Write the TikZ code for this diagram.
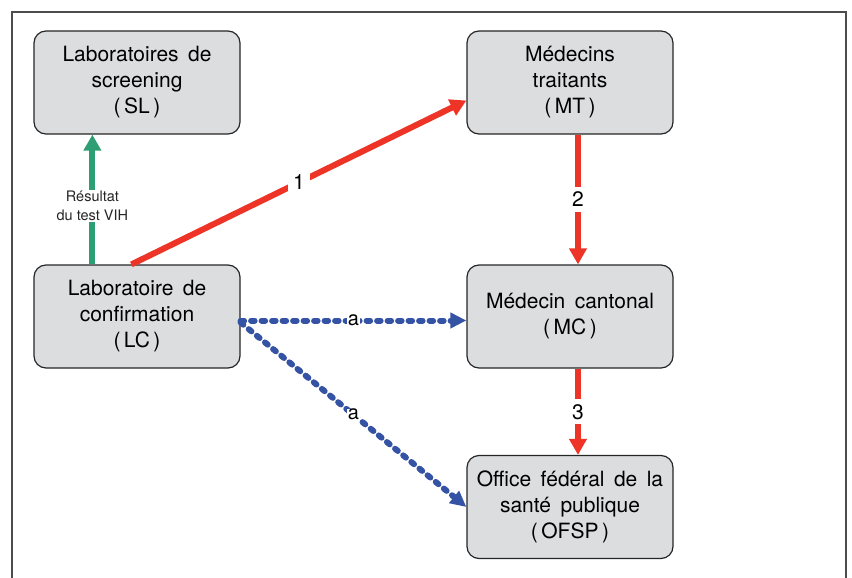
\documentclass[tikz,border=0pt]{standalone}
\usepackage{fontspec}
\setmainfont{TeX Gyre Heros}
\usepackage[dvipsnames]{xcolor}
\usetikzlibrary{arrows.meta}

\definecolor{boxgray}{HTML}{DCDDDF}
\definecolor{arrred}{HTML}{EE3327}
\definecolor{arrgreen}{HTML}{2E9E74}
\definecolor{arrblue}{HTML}{3553A4}
\DeclareRobustCommand\boxfont{\fontsize{21}{26}\selectfont\spaceskip=0.45em\relax}

\begin{document}
\begin{tikzpicture}[x=1pt, y=-1pt,
    office/.style={draw=black!85, line width=1.2pt, fill=boxgray, rounded corners=12pt,
      minimum width=206pt, minimum height=103pt, align=center, font=\boxfont},
    redarrow/.style={draw=arrred, line width=6pt, -{Triangle[length=16pt, width=17pt]}},
    greenarrow/.style={draw=arrgreen, line width=6pt, -{Triangle[length=16pt, width=17pt]}},
    bluearrow/.style={draw=arrblue, line width=6pt, line cap=round,
      dash pattern=on 3.5pt off 7pt, -{Triangle[length=16pt, width=15pt]}},
    num/.style={fill=white, inner sep=5pt, font=\fontsize{21}{21}\selectfont},
    lbl/.style={fill=white, inner sep=0.5pt, font=\fontsize{20}{20}\selectfont}]
    \useasboundingbox (0,0) rectangle (852,578);
    \draw [black!70, line width=1.5pt] (12,590) -- (12,12) -- (846,12) -- (846,590);
    \node [office] (sl) at (137,82.5) {Laboratoires de\\screening\\(\,SL\,)};
    \node [office] (lc) at (137,316.5) {Laboratoire de\\confirmation\\(\,LC\,)};
    \node [office] (mt) at (570,82.5) {Médecins\\traitants\\(\,MT\,)};
    \node [office] (mc) at (570,316.5) {Médecin cantonal\\(\,MC\,)};
    \node [office] (ofsp) at (570,507) {Office fédéral de la\\santé publique\\(\,OFSP\,)};
    \draw [greenarrow] ([xshift=59pt]lc.north west) -- node [fill=white, inner sep=1pt, align=center,
      font=\fontsize{14.5}{19}\selectfont, text=black!85, pos=0.45] {Résultat\\du test VIH} ([xshift=59pt]sl.south west);
    \draw [redarrow] ([xshift=98pt]lc.north west) -- node [num] {1} ([yshift=-18pt]mt.west);
    \draw [redarrow] ([xshift=8pt]mt.south) -- node [num] {2} ([xshift=8pt]mc.north);
    \draw [redarrow] ([xshift=8pt]mc.south) -- node [num] {3} ([xshift=8pt]ofsp.north);
    \draw [bluearrow] ([yshift=-4pt]lc.east) -- node [lbl] {a} ([yshift=-4pt]mc.west);
    \draw [bluearrow] ([yshift=-6pt]lc.east) -- node [lbl] {a} (ofsp.west);
\end{tikzpicture}
\end{document}
